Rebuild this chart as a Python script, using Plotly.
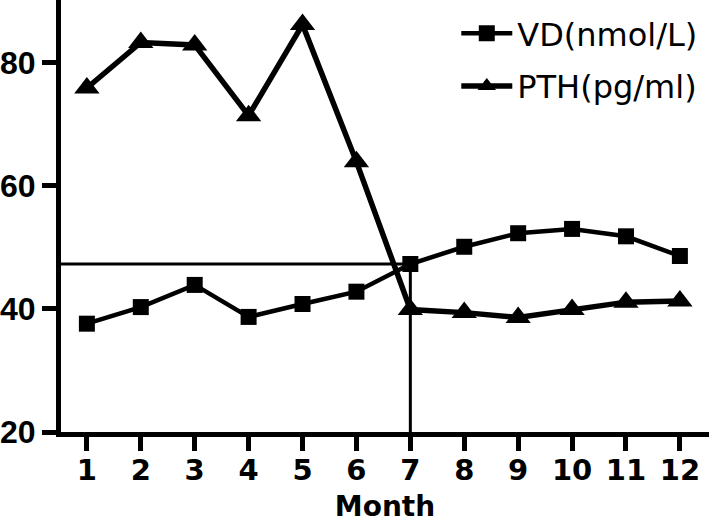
import plotly.graph_objects as go

months = [1, 2, 3, 4, 5, 6, 7, 8, 9, 10, 11, 12]
vd = [37.6, 40.3, 43.9, 38.7, 40.8, 42.8, 47.3, 50.1, 52.3, 53.0, 51.8, 48.6]
pth = [75.9, 83.3, 82.9, 71.4, 86.2, 63.9, 39.9, 39.4, 38.6, 39.9, 41.1, 41.3]
y_ticks = [20, 40, 60, 80]
ref_month = 7

x_range = [0.52, 12.54]
y_range = [20, 90.2]

ref_val = vd[months.index(ref_month)]
FONT = "DejaVu Sans, Liberation Sans, Arial, sans-serif"
FONT_Y = "Liberation Sans, Arial, sans-serif"

fig = go.Figure()
fig.add_trace(go.Scatter(
    x=[x_range[0], ref_month, ref_month], y=[ref_val, ref_val, y_range[0]],
    mode="lines", line=dict(color="black", width=3), showlegend=False, hoverinfo="skip"))
fig.add_trace(go.Scatter(
    x=months, y=vd, name="VD(nmol/L)", mode="lines+markers",
    line=dict(color="black", width=4.5),
    marker=dict(symbol="square", size=16, color="black"), legendgroup="a"))
fig.add_trace(go.Scatter(
    x=months, y=pth, name="PTH(pg/ml)", mode="lines+markers",
    line=dict(color="black", width=5.5),
    marker=dict(symbol="triangle-up", size=22, color="black"), legendgroup="b"))

fig.update_layout(
    width=709, height=523,
    margin=dict(l=61, r=0, t=0, b=91),
    paper_bgcolor="white", plot_bgcolor="white",
    font=dict(family=FONT, color="black"),
    legend=dict(x=0.61, y=0.986, xanchor="left", yanchor="top",
                font=dict(size=32, family=FONT),
                bgcolor="rgba(0,0,0,0)", itemwidth=51, tracegroupgap=8,
                traceorder="grouped"),
    xaxis=dict(range=x_range, tickvals=months, showgrid=False, zeroline=False,
               automargin=False,
               showline=True, linewidth=5, linecolor="black",
               ticks="outside", ticklen=14, tickwidth=5, tickcolor="black",
               ticklabelstandoff=-6,
               tickfont=dict(size=29, family=FONT, weight="bold"),
               title=dict(text="<b>Month</b>", font=dict(size=28, family=FONT), standoff=13)),
    yaxis=dict(range=y_range, tickvals=y_ticks, showgrid=False, zeroline=False,
               automargin=False,
               showline=True, linewidth=5, linecolor="black",
               ticks="outside", ticklen=14, tickwidth=5, tickcolor="black",
               ticklabelstandoff=0,
               tickfont=dict(size=32, family=FONT_Y, weight="bold")),
)
fig.write_html("out.html", config={"displayModeBar": False},
               post_script="document.body.style.margin='0px';")
